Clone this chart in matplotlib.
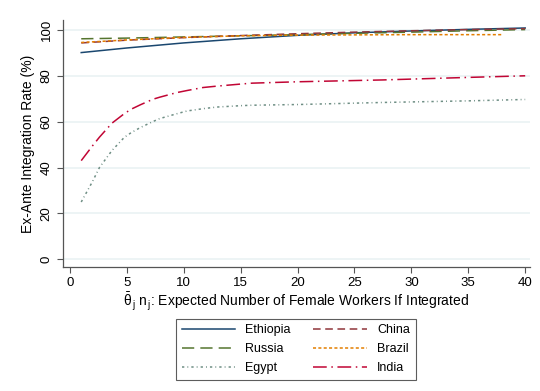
import matplotlib
matplotlib.use("Agg")
import matplotlib.pyplot as plt

plt.rcParams['font.family'] = ['Liberation Sans', 'DejaVu Sans']
plt.rcParams['mathtext.fontset'] = 'custom'
plt.rcParams['mathtext.rm'] = 'Liberation Sans'
plt.rcParams['mathtext.it'] = 'Liberation Sans'

# values
x_top = [1, 5, 10, 15, 20, 25, 30, 35, 40]
ethiopia = [90.0, 92.0, 94.2, 96.0, 97.5, 98.6, 99.4, 100.1, 100.7]
russia = [96.0, 96.3, 96.8, 97.3, 97.8, 98.4, 98.9, 99.5, 100.0]
china = [94.2, 95.4, 96.5, 97.4, 98.2, 98.9, 99.5, 100.0, 100.4]
x_brazil = [1, 5, 10, 15, 20, 25, 30, 35, 38]
brazil = [94.4, 95.5, 96.6, 97.3, 97.6, 97.7, 97.8, 97.8, 97.8]

x_low = [1, 2, 2.6, 3.7, 4.8, 5.4, 6.2, 7.3, 7.9, 9.4, 10.3, 11.7, 12.9, 15, 16, 20, 27.5, 35, 40]
india = [43.0, 49.5, 53.2, 59.3, 63.5, 65.4, 67.3, 69.7, 70.6, 72.6, 73.5, 74.8, 75.4, 76.3, 76.7, 77.3, 78.1, 79.2, 79.9]
egypt = [25.0, 34.0, 40.0, 47.4, 53.2, 55.2, 57.4, 60.0, 61.3, 63.4, 64.6, 65.6, 66.3, 66.9, 67.1, 67.4, 68.3, 69.0, 69.6]

navy = '#1a476f'
green = '#55752f'
teal = '#6e8e84'
maroon = '#90353b'
orange = '#e37e00'
cranberry = '#c10534'

fig = plt.figure(figsize=(5.4, 3.91), dpi=100)
ax = fig.add_axes([0.1167, 0.317, 0.8643, 0.632])

lw = 1.1
h1, = ax.plot(x_top, ethiopia, color=navy, lw=lw, label='Ethiopia')
h2, = ax.plot(x_top, russia, color=green, lw=lw, dashes=(8, 4), label='Russia')
h3, = ax.plot(x_low, egypt, color=teal, lw=lw, dashes=(1.5, 2, 0.6, 2), label='Egypt')
h4, = ax.plot(x_top, china, color=maroon, lw=lw, dashes=(5, 3), label='China')
h5, = ax.plot(x_brazil, brazil, color=orange, lw=lw, dashes=(2, 1.5), label='Brazil')
h6, = ax.plot(x_low, india, color=cranberry, lw=lw, dashes=(9, 3, 1, 3), label='India')

ax.set_xlim(-0.6, 40.4)
ax.set_ylim(-3.3, 104.2)
ax.set_xticks(range(0, 41, 5))
ax.set_yticks(range(0, 101, 20))
ax.yaxis.grid(True, color='#eaf2f3', lw=1.2)
ax.set_axisbelow(True)

for s in ['top', 'right']:
    ax.spines[s].set_visible(False)
for s in ['left', 'bottom']:
    ax.spines[s].set_color('#555555')
    ax.spines[s].set_linewidth(0.9)
ax.tick_params(direction='out', length=4, width=0.8, color='#555555', labelsize=9.5)
plt.setp(ax.get_yticklabels(), rotation=90, va='center')

ax.set_ylabel('Ex-Ante Integration Rate (%)', fontsize=10, labelpad=4)
ax.set_xlabel(r'$\bar{\theta}_{\,j}\ n_{\,j}$: Expected Number of Female Workers If Integrated',
              fontsize=10, labelpad=1)

leg = fig.legend(handles=[h1, h2, h3, h4, h5, h6], ncol=2, loc='upper center',
                 bbox_to_anchor=(0.548, 0.201), fontsize=9, frameon=True,
                 fancybox=False, edgecolor='#333333', handlelength=4.3,
                 columnspacing=1.8, borderpad=0.45, labelspacing=0.55)
leg.get_frame().set_linewidth(0.8)

fig.savefig('out.png', dpi=100)
